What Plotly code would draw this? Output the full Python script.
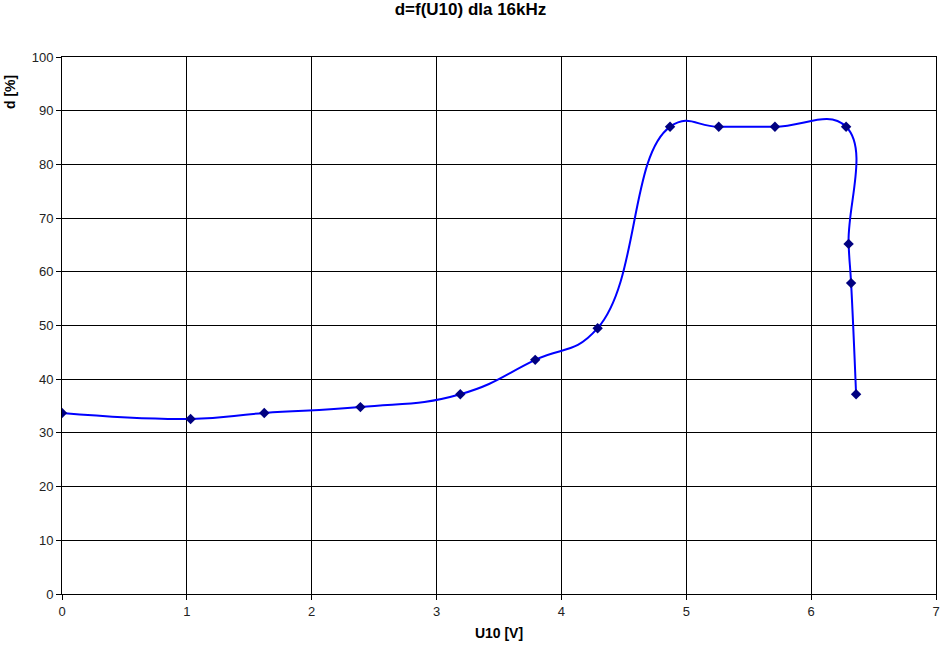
import plotly.graph_objects as go

u10 = [0.0, 1.03, 1.62, 2.39, 3.19, 3.79, 4.29, 4.87, 5.26, 5.71, 6.28, 6.30, 6.32, 6.36]
d_pct = [33.7, 32.6, 33.7, 34.8, 37.2, 43.6, 49.5, 87.0, 87.0, 87.0, 87.0, 65.2, 57.9, 37.2]

title = "d=f(U10) dla 16kHz"
x_title = "U10 [V]"
y_title = "d [%]"

fig = go.Figure()
fig.add_trace(go.Scatter(
    x=u10, y=d_pct, mode="lines",
    line=dict(color="#0000FF", width=2, shape="spline", smoothing=1.3),
    hoverinfo="skip", showlegend=False,
))
fig.add_trace(go.Scatter(
    x=u10, y=d_pct, mode="markers",
    marker=dict(symbol="diamond", size=8, color="#000080"),
    showlegend=False,
))

font = "Liberation Sans, Arial, sans-serif"
fig.update_layout(
    width=941, height=652,
    margin=dict(l=62, r=5, t=57, b=58),
    paper_bgcolor="white", plot_bgcolor="white",
    font=dict(family=font, size=13, color="#222222"),
    title=dict(text="<b>" + title + "</b>", x=0.5, xanchor="center",
               y=1 - 9.5 / 652, yanchor="middle", font=dict(size=17, color="black")),
    xaxis=dict(range=[0, 7], dtick=1, tick0=0, showgrid=True, gridcolor="black",
               gridwidth=1, zeroline=False, showline=True, linecolor="black",
               ticks="outside", ticklen=5, tickcolor="black", automargin=False,
               title=dict(text="<b>" + x_title + "</b>", standoff=10,
                          font=dict(size=14, color="black")),
               mirror=True),
    yaxis=dict(range=[0, 100], dtick=10, tick0=0, showgrid=True, gridcolor="black",
               gridwidth=1, zeroline=False, showline=True, linecolor="black",
               ticks="outside", ticklen=5, tickcolor="black", automargin=False,
               mirror=True),
    annotations=[dict(text="<b>" + y_title + "</b>", textangle=-90,
                      xref="paper", yref="paper", x=-62 / 874, y=(594 - 92) / 537,
                      xanchor="left", yanchor="middle", showarrow=False,
                      font=dict(size=14, color="black"))],
)
fig.write_html("out.html", config={"displayModeBar": False},
               post_script="document.body.style.margin='0';")
